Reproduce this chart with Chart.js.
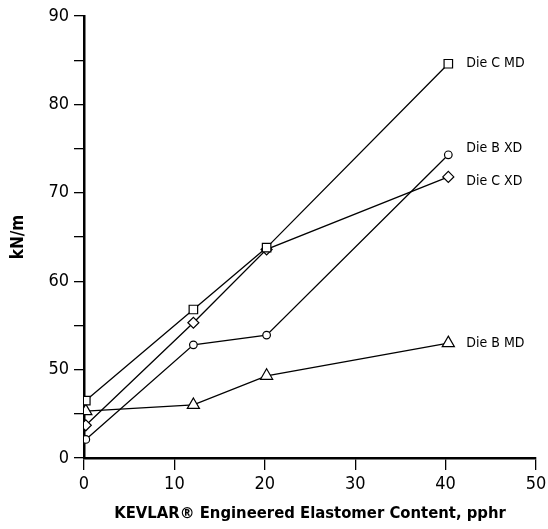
<!DOCTYPE html>
<html>
<head>
<meta charset="utf-8">
<script src="https://cdn.jsdelivr.net/npm/chart.js@4/dist/chart.umd.min.js"></script>
<style>
  body { margin: 0; background: #fff; }
  canvas { display: block; }
</style>
</head>
<body>
<canvas id="chart" width="548" height="529"></canvas>
<script>
// Data (y axis is broken: bottom tick "0" stands for 40)
const contents = [0.2, 12.1, 20.2, 40.3];
const dieCMD = [46.5, 56.8, 63.8, 84.6];
const dieBXD = [42.1, 52.8, 53.9, 74.3];
const dieCXD = [43.7, 55.3, 63.6, 71.8];
const dieBMD = [45.3, 46.0, 49.3, 53.0];
const seriesNames = ['Die C MD', 'Die B XD', 'Die C XD', 'Die B MD'];
const xTicks = [0, 10, 20, 30, 40, 50];

const FONT = '"Liberation Sans Narrow", "DejaVu Sans Condensed", "Liberation Sans", sans-serif';

function toPoints(values) {
    return contents.map((x, i) => ({ x: x, y: values[i] }));
}

function makeSeries(label, values, style, radius, labelDy) {
    return {
        label: label,
        data: toPoints(values),
        borderColor: '#000',
        borderWidth: 1.3,
        backgroundColor: '#fff',
        pointStyle: style,
        pointRadius: radius,
        pointBorderWidth: 1.2,
        pointBorderColor: '#000',
        pointBackgroundColor: '#fff',
        labelDy: labelDy,
        tension: 0
    };
}

// Labels next to the last point of each line
const endLabels = {
    id: 'endLabels',
    afterDatasetsDraw(chart) {
        const ctx = chart.ctx;
        ctx.save();
        ctx.font = '14px ' + FONT;
        ctx.fillStyle = '#000';
        ctx.textBaseline = 'middle';
        chart.data.datasets.forEach((ds, i) => {
            const pts = chart.getDatasetMeta(i).data;
            const last = pts[pts.length - 1];
            ctx.fillText(ds.label, last.x + 18, last.y + ds.labelDy);
        });
        ctx.restore();
    }
};

new Chart(document.getElementById('chart'), {
    type: 'line',
    data: {
        datasets: [
            makeSeries(seriesNames[0], dieCMD, 'rect', 6, 0),
            makeSeries(seriesNames[1], dieBXD, 'circle', 3.8, -6),
            makeSeries(seriesNames[2], dieCXD, 'rectRot', 5.5, 4),
            makeSeries(seriesNames[3], dieBMD, 'triangle', 7, 0)
        ]
    },
    options: {
        responsive: false,
        animation: false,
        layout: { padding: { top: 16, right: 12, left: 0, bottom: 0 } },
        plugins: {
            legend: { display: false },
            tooltip: { enabled: false }
        },
        scales: {
            x: {
                type: 'linear',
                min: 0,
                max: 50,
                afterBuildTicks(axis) {
                    axis.ticks = xTicks.map(v => ({ value: v }));
                },
                afterFit(axis) {
                    axis.height = 71;
                    axis.paddingRight = 0;
                    axis.paddingLeft = 0;
                },
                ticks: {
                    color: '#000',
                    font: { family: FONT, size: 18 },
                    padding: 4,
                    maxRotation: 0
                },
                grid: {
                    drawOnChartArea: false,
                    tickLength: 12,
                    color: '#000',
                    lineWidth: 1.3
                },
                border: { display: true, color: '#000', width: 2.5 },
                title: {
                    display: true,
                    text: 'KEVLAR® Engineered Elastomer Content, pphr',
                    color: '#000',
                    font: { family: FONT, size: 16.5, weight: 'bold' },
                    padding: { top: 0, bottom: 5 }
                }
            },
            y: {
                min: 40,
                max: 90,
                afterFit(axis) {
                    axis.width = 84;
                    axis.paddingTop = 0;
                    axis.paddingBottom = 0;
                },
                ticks: {
                    stepSize: 5,
                    color: '#000',
                    font: { family: FONT, size: 18 },
                    padding: 5,
                    callback: v => v % 10 === 0 ? (v === 40 ? '0' : String(v)) : ''
                },
                grid: {
                    drawOnChartArea: false,
                    tickLength: 10,
                    color: '#000',
                    lineWidth: 1.3
                },
                border: { display: true, color: '#000', width: 2.5 },
                title: {
                    display: true,
                    text: 'kN/m',
                    color: '#000',
                    font: { family: FONT, size: 17, weight: 'bold' },
                    padding: { top: 8, bottom: 0 }
                }
            }
        }
    },
    plugins: [endLabels]
});
</script>
</body>
</html>
